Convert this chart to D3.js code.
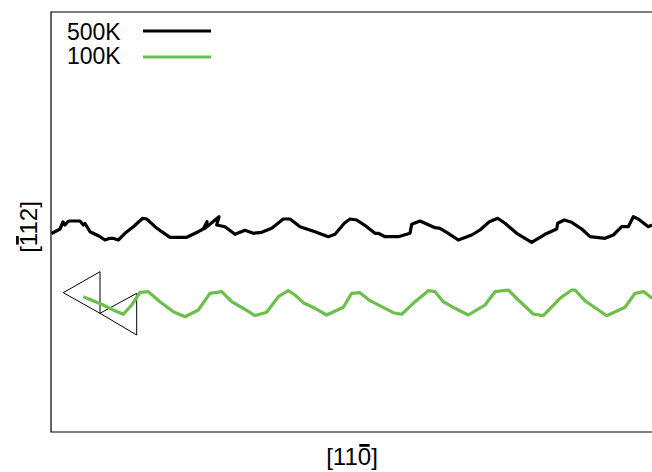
<!DOCTYPE html>
<html>
<head>
<meta charset="utf-8">
<script src="https://cdn.jsdelivr.net/npm/d3@7"></script>
<style>
  body { margin: 0; background: #fff; }
  text { font-family: "Liberation Sans", Arial, sans-serif; }
</style>
</head>
<body>
<script>
// series values (x along [11-0], y along [-112])
var seriesNames = ["500K", "100K"];
var seriesColors = ["#000000", "#6cbf4a"];

var x500 = [0.05,0.9,1.2,1.4,1.7,1.9,2.9,3.23,3.4,3.9,4.73,5.4,5.9,6.2,6.73,7.4,8.23,9.17,9.57,10.4,11.07,11.9,13.57,14.73,15.23,15.6,15.4,16.8,16.57,17.4,18.4,19.4,20.23,21.07,22.07,23.23,23.9,24.9,26.4,27.73,28.4,29.33,29.9,30.57,31.57,32.4,32.73,33.4,34.73,35.9,36.07,36.9,38.4,38.9,39.73,40.73,42.07,42.9,43.83,44.67,45.4,46.57,48.07,49.4,50.57,50.67,51.33,52.07,53.07,53.9,55.4,56.23,57.07,57.73,58.23,58.73,59.73,60.1];
var y500 = [19.85,20.3,21.0,20.7,21.05,21.1,21.1,20.7,20.85,20.03,19.63,19.2,19.37,19.37,19.2,19.87,20.53,21.37,21.3,20.53,20.03,19.47,19.47,20.03,20.3,21.03,20.37,21.53,20.7,20.53,19.77,20.17,19.87,19.97,20.37,21.3,21.3,20.53,20.03,19.53,19.77,20.87,21.3,21.2,20.53,19.87,19.87,19.53,19.53,19.87,20.77,21.1,20.43,20.37,19.87,19.2,19.7,20.2,21.03,21.37,20.87,19.87,18.97,19.77,20.3,20.87,21.2,20.97,20.3,19.53,19.37,19.7,20.53,20.53,21.53,21.3,20.53,20.7];

var x100 = [3.23,5.23,6.23,7.23,8.07,8.9,9.73,10.9,12.23,13.4,14.73,15.9,17.07,18.07,19.23,20.4,21.57,22.73,23.73,24.4,25.23,26.4,27.57,29.23,30.07,30.9,31.9,33.07,34.23,35.07,36.4,37.73,38.4,39.23,40.4,41.73,43.4,44.4,45.73,46.73,48.23,49.23,50.9,52.07,52.4,53.4,55.57,57.4,58.4,59.3,60.1];
var y100 = [13.53,12.7,12.2,11.77,12.7,13.97,14.03,13.03,12.03,11.53,12.2,13.87,14.03,13.03,12.37,11.65,11.97,13.53,14.13,13.7,12.93,12.37,11.7,12.47,13.87,13.93,13.13,12.53,11.93,11.77,13.03,14.13,14.03,13.03,12.37,11.7,12.7,14.03,14.2,13.2,11.8,11.63,13.37,14.2,14.2,13.13,11.63,12.47,13.87,14.03,13.37];

// the two outline triangles near the start of the 100K line
var triX = [[1.23,4.9,4.9],[4.9,8.57,8.57]];
var triY = [[13.93,16.03,11.87],[11.87,13.87,9.7]];

var width = 652;
var height = 472;
var margin = {top: 12, right: 1, bottom: 40, left: 51};

var svg = d3.select("body").append("svg")
    .attr("width", width)
    .attr("height", height);

var x = d3.scaleLinear().domain([0, 60]).range([margin.left, width - margin.right]);
var y = d3.scaleLinear().domain([0, 42]).range([height - margin.bottom, margin.top]);

var line = d3.line()
    .x(function (d) { return x(d[0]); })
    .y(function (d) { return y(d[1]); });

//frame (right side runs off the canvas)
svg.append("path")
    .attr("d", "M" + (width + 10) + "," + y(42) + "H" + x(0) + "V" + y(0) + "H" + (width + 10))
    .attr("fill", "none")
    .attr("stroke", "#000")
    .attr("stroke-width", 1.2);

//triangles
for (let i = 0; i < triX.length; i++) {
    var pts = d3.zip(triX[i], triY[i]);
    svg.append("path")
        .attr("d", line(pts) + "Z")
        .attr("fill", "none")
        .attr("stroke", "#000")
        .attr("stroke-width", 1);
}

//lines
var series = [d3.zip(x500, y500), d3.zip(x100, y100)];
for (let i = 0; i < series.length; i++) {
    svg.append("path")
        .attr("d", line(series[i]))
        .attr("fill", "none")
        .attr("stroke", seriesColors[i])
        .attr("stroke-width", 3.2)
        .attr("stroke-linejoin", "round");
}

//legend
var legend = svg.append("g");
for (let i = 0; i < seriesNames.length; i++) {
    var ly = 31 + i * 26;
    legend.append("text")
        .attr("x", 67)
        .attr("y", 40 + i * 24)
        .attr("font-size", 23)
        .text(seriesNames[i]);
    legend.append("line")
        .attr("x1", 143)
        .attr("x2", 211)
        .attr("y1", ly)
        .attr("y2", ly)
        .attr("stroke", seriesColors[i])
        .attr("stroke-width", 3);
}

//axis titles with overlined digit
var xt = svg.append("text")
    .attr("x", 352)
    .attr("y", 465)
    .attr("text-anchor", "middle")
    .attr("font-size", 24);
xt.append("tspan").text("[11");
xt.append("tspan").attr("class", "bar").text("0");
xt.append("tspan").text("]");

var yt = svg.append("text")
    .attr("transform", "translate(37,227) rotate(-90)")
    .attr("text-anchor", "middle")
    .attr("font-size", 24);
yt.append("tspan").text("[");
yt.append("tspan").attr("class", "bar").text("1");
yt.append("tspan").text("12]");

//draw the bars over the digits
svg.selectAll("text").each(function () {
    var t = this;
    var n = 0;
    d3.select(t).selectAll("tspan").each(function () {
        var len = this.textContent.length;
        if (this.getAttribute("class") === "bar") {
            var box = t.getExtentOfChar(n);
            d3.select(t.parentNode).append("rect")
                .attr("x", box.x + 1.5)
                .attr("y", box.y + 1)
                .attr("width", box.width - 3)
                .attr("height", 2.8)
                .attr("transform", d3.select(t).attr("transform"));
        }
        n += len;
    });
});
</script>
</body>
</html>
